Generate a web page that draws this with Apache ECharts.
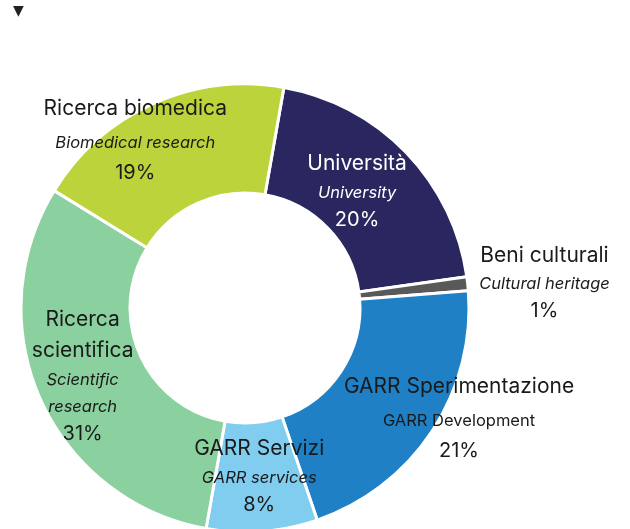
<!DOCTYPE html>
<html>
<head>
<meta charset="utf-8">
<script src="https://cdn.jsdelivr.net/npm/echarts@6/dist/echarts.min.js"></script>
<style>
  html, body { margin: 0; padding: 0; background: #fff; }
  #chart { width: 630px; height: 529px; }
</style>
</head>
<body>
<div id="chart"></div>
<script>
// slice names (Italian / English) and shares in percent
const namesIt = ["Università", "Beni culturali", "GARR Sperimentazione", "GARR Servizi", "Ricerca\nscientifica", "Ricerca biomedica"];
const namesEn = ["University", "Cultural heritage", "GARR Development", "GARR services", "Scientific\nresearch", "Biomedical research"];
const shares = [20, 1, 21, 8, 31, 19];
const colors = ["#2a2760", "#595959", "#1f80c6", "#80cdf0", "#8bd09f", "#bdd33c"];

// label nudges from the default inside position
const labelTweaks = [
  { dx: -12, dy: 3, color: "#ffffff", en: "e", loose: false },
  { dx: 128, dy: -7, color: "#1a1a1a", en: "e", loose: false },
  { dx: 70, dy: 14, color: "#1a1a1a", en: "u", loose: true },
  { dx: 1, dy: -4, color: "#1a1a1a", en: "e", loose: false },
  { dx: -5, dy: -3, color: "#1a1a1a", en: "e", loose: false },
  { dx: -39, dy: -12, color: "#1a1a1a", en: "e", loose: true }
];

const FONT = "Inter, 'Open Sans', sans-serif";

const rich = {
  n: { fontFamily: FONT, fontSize: 21, lineHeight: 31 },
  e: { fontFamily: FONT, fontSize: 16.5, fontStyle: "italic", lineHeight: 27 },
  u: { fontFamily: FONT, fontSize: 16.5, lineHeight: 27 },
  p: { fontFamily: FONT, fontSize: 20, lineHeight: 27 },
  nL: { fontFamily: FONT, fontSize: 21, lineHeight: 36 },
  eL: { fontFamily: FONT, fontSize: 16.5, fontStyle: "italic", lineHeight: 32 },
  uL: { fontFamily: FONT, fontSize: 16.5, lineHeight: 32 },
  pL: { fontFamily: FONT, fontSize: 20, lineHeight: 28 }
};

const wrap = (key, text) => text.split("\n").map(t => `{${key}|${t}}`).join("\n");

const pieData = shares.map((v, i) => {
  const tw = labelTweaks[i];
  const s = tw.loose ? "L" : "";
  return {
    name: namesIt[i],
    value: v,
    itemStyle: { color: colors[i] },
    label: {
      color: tw.color,
      formatter: [wrap("n" + s, namesIt[i]), wrap(tw.en + s, namesEn[i]), wrap("p" + s, v + "%")].join("\n")
    }
  };
});

const chart = echarts.init(document.getElementById("chart"));
chart.setOption({
  animation: false,
  graphic: [{
    type: "text",
    left: 13,
    top: 4,
    style: { text: "▼", fontSize: 14, fill: "#222", fontFamily: "DejaVu Sans" }
  }],
  series: [{
    type: "pie",
    center: [245, 308],
    radius: [115, 224],
    startAngle: 80,
    clockwise: true,
    avoidLabelOverlap: false,
    itemStyle: { borderColor: "#ffffff", borderWidth: 3 },
    label: {
      show: true,
      position: "inside",
      align: "center",
      rich: rich
    },
    labelLine: { show: false },
    labelLayout: (params) => ({
      dx: labelTweaks[params.dataIndex].dx,
      dy: labelTweaks[params.dataIndex].dy
    }),
    emphasis: { disabled: true },
    data: pieData
  }]
});
</script>
</body>
</html>
